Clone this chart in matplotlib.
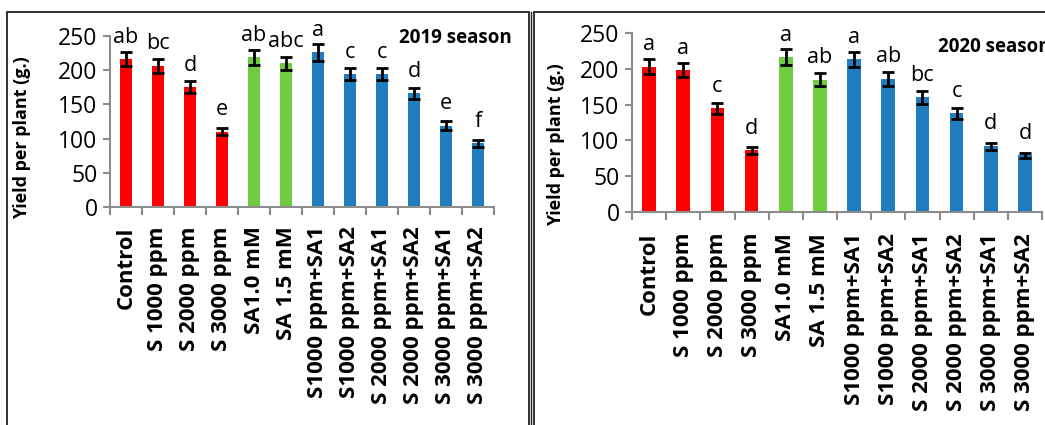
import numpy as np
import matplotlib
matplotlib.use("Agg")
import matplotlib.pyplot as plt
from matplotlib.patches import Rectangle
from matplotlib.lines import Line2D

plt.rcParams['font.family'] = ['Open Sans', 'DejaVu Sans']

treatments = ['Control', 'S 1000 ppm', 'S 2000 ppm', 'S 3000 ppm', 'SA1.0 mM',
              'SA 1.5 mM', 'S1000 ppm+SA1', 'S1000 ppm+SA2', 'S 2000 ppm+SA1',
              'S 2000 ppm+SA2', 'S 3000 ppm+SA1', 'S 3000 ppm+SA2']
groups = ['S'] * 4 + ['SA'] * 2 + ['mix'] * 6

# 2019 season
yield_2019 = [216, 206, 175, 110, 219, 210, 226, 194, 194, 166, 119, 93]
err_2019 = [10, 10, 9, 5, 11, 10, 12, 9, 9, 8.5, 6.5, 5]
letters_2019 = ['ab', 'bc', 'd', 'e', 'ab', 'abc', 'a', 'c', 'c', 'd', 'e', 'f']

# 2020 season
yield_2020 = [203, 198, 145, 86, 216, 185, 213, 186, 160, 138, 92, 79]
err_2020 = [10, 9.5, 7.5, 4.5, 11, 9.5, 11, 9.5, 8.5, 7.5, 5, 4]
letters_2020 = ['a', 'a', 'c', 'd', 'a', 'ab', 'a', 'ab', 'bc', 'c', 'd', 'd']

group_colors = {'S': '#FF0000', 'SA': '#6FCB3F', 'mix': '#1F7DC0'}
colors = [group_colors[g] for g in groups]

W, H = 1045, 425
fig = plt.figure(figsize=(W / 100, H / 100), dpi=100)


def px(x0, y0, x1, y1):
    # pixel box -> figure fraction [left, bottom, width, height]
    return [x0 / W, 1 - y1 / H, (x1 - x0) / W, (y1 - y0) / H]


def panel(rect, values, errs, letters, label_pad):
    ax = fig.add_axes(rect)
    x = np.arange(len(values))
    ax.bar(x, values, width=0.4, color=colors, zorder=2)
    ax.errorbar(x, values, yerr=errs, fmt='none', ecolor='black',
                elinewidth=2, capsize=4.5, capthick=2, zorder=3)
    for xi, v, lab in zip(x, values, letters):
        ax.annotate(lab, (xi, v), xytext=(0, 12), textcoords='offset points',
                    ha='center', va='baseline', fontsize=15.5,
                    annotation_clip=False)
    ax.set_xlim(-0.5, len(values) - 0.5)
    ax.set_ylim(0, 250)
    ax.set_yticks(range(0, 251, 50))
    ax.set_xticks(x)
    ax.set_xticklabels(treatments, rotation=90, fontsize=16, fontweight='bold')
    ax.set_xticks(np.arange(-0.5, len(values), 1), minor=True)
    ax.tick_params(axis='x', which='major', length=0, pad=label_pad)
    ax.tick_params(axis='x', which='minor', length=6, width=1.5, color='#8C8C8C')
    ax.tick_params(axis='y', length=5, width=1.5, color='#8C8C8C',
                   labelsize=16.5, pad=4)
    for s in ['top', 'right']:
        ax.spines[s].set_visible(False)
    for s in ['left', 'bottom']:
        ax.spines[s].set_color('#8C8C8C')
        ax.spines[s].set_linewidth(1.5)
    return ax


panel(px(110, 36, 494, 207), yield_2019, err_2019, letters_2019, 14)
panel(px(632, 33, 1042, 212), yield_2020, err_2020, letters_2020, 15)

fig.text(22 / W, 1 - 138 / H, 'Yield per plant (g.)', rotation=90,
         ha='center', va='center', fontsize=13, fontweight='bold')
fig.text(556 / W, 1 - 145 / H, 'Yield per plant (g.)', rotation=90,
         ha='center', va='center', fontsize=13, fontweight='bold')
fig.text(512 / W, 1 - 38 / H, '2019 season', ha='right', va='center',
         fontsize=13.5, fontweight='bold')
fig.text(938 / W, 1 - 47 / H, '2020 season', ha='left', va='center',
         fontsize=13.5, fontweight='bold')

# panel frames
fig.patches.append(Rectangle((7 / W, -0.1), (529 - 7) / W, 1.1 - 12 / H,
                             transform=fig.transFigure, fill=False,
                             edgecolor='#222222', linewidth=1.3))
fig.patches.append(Rectangle((533.5 / W, -0.1), 0.5, 1.1 - 12 / H,
                             transform=fig.transFigure, fill=False,
                             edgecolor='#222222', linewidth=1.3))
fig.lines.append(Line2D([531 / W, 531 / W], [-0.1, 1 - 12 / H],
                        transform=fig.transFigure, color='#222222',
                        linewidth=1.0))

fig.savefig('out.png', dpi=100)
